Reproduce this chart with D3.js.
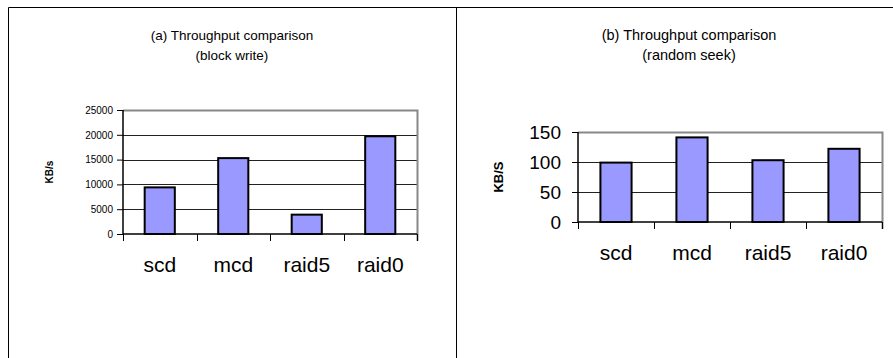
<!DOCTYPE html>
<html><head><meta charset="utf-8">
<script src="https://cdn.jsdelivr.net/npm/d3@7"></script>
<style>body{margin:0;background:#fff}svg{display:block;font-family:"Liberation Sans",Arial,sans-serif}</style>
</head><body><svg id="c" width="893" height="358"></svg>
<script>
const categories = ["scd", "mcd", "raid5", "raid0"];
const blockWrite = [9400, 15300, 3900, 19700];
const randomSeek = [99, 141, 103, 122];
const blockTicks = [0, 5000, 10000, 15000, 20000, 25000];
const seekTicks = [0, 50, 100, 150];
const titlesA = ["(a) Throughput comparison", "(block write)"];
const titlesB = ["(b) Throughput comparison", "(random seek)"];
const yLabelA = "KB/s";
const yLabelB = "KB/S";

const svg = d3.select("#c");
// outer frame
svg.append("path").attr("d","M8.5,358 V7.5 H893 M456.5,7.5 V358").attr("fill","none").attr("stroke","#000").attr("stroke-width",1);

function panel(o){
  const g = svg.append("g");
  const x = d3.scaleBand().domain(categories).range([o.x0,o.x1]).paddingInner(0.59).paddingOuter(0.295);
  const xb = d3.scaleBand().domain(categories).range([o.x0,o.x1]);
  const y = d3.scaleLinear().domain([0,o.max]).range([o.y1,o.y0]);
  // gridlines
  g.selectAll(".gl").data(o.ticks.slice(1,-1)).join("line")
    .attr("x1",o.x0).attr("x2",o.x1).attr("y1",d=>Math.round(y(d))+0.5).attr("y2",d=>Math.round(y(d))+0.5)
    .attr("stroke","#222").attr("stroke-width",1);
  // plot border gray top/right
  g.append("path").attr("d",`M${o.x0},${y(o.max)+0.5} H${o.x1+0.5} V${o.y1+7}`).attr("fill","none").attr("stroke","#888").attr("stroke-width",2);
  // bars
  g.selectAll(".bar").data(o.values).join("rect")
    .attr("x",(d,i)=>x(categories[i])).attr("width",x.bandwidth())
    .attr("y",d=>y(d)).attr("height",d=>y(0)-y(d))
    .attr("fill","#9999ff").attr("stroke","#000").attr("stroke-width",2);
  // y axis
  const ya = d3.axisLeft(y).tickValues(o.ticks).tickSize(o.ytick).tickPadding(o.ypad).tickFormat(d3.format("d"));
  const yg = g.append("g").attr("transform",`translate(${o.x0},0)`).call(ya);
  yg.select(".domain").attr("stroke","#000").attr("stroke-width",1.5).attr("d",`M0,${y(o.max)} V${o.y1}`);
  yg.selectAll("text").attr("font-size",o.yfs).attr("fill","#000").attr("font-family","Liberation Sans, Arial, sans-serif");
  // x axis
  const xa = d3.axisBottom(xb).tickSize(0).tickFormat("");
  const xg = g.append("g").attr("transform",`translate(0,${o.y1})`).call(xa);
  xg.select(".domain").attr("stroke","#000").attr("stroke-width",1.5).attr("d",`M${o.x0},0 H${o.x1}`);
  const bounds = categories.map(c=>xb(c)).concat([o.x1]);
  g.selectAll(".xt").data(bounds).join("line")
    .attr("x1",d=>Math.round(d)+0.5).attr("x2",d=>Math.round(d)+0.5).attr("y1",o.y1).attr("y2",o.y1+7)
    .attr("stroke","#000").attr("stroke-width",1);
  g.selectAll(".cl").data(categories).join("text")
    .attr("x",d=>xb(d)+xb.bandwidth()/2).attr("y",o.catY).attr("text-anchor","middle")
    .attr("font-size",21).text(d=>d);
  // titles
  g.selectAll(".tt").data(o.titles).join("text")
    .attr("x",o.tx).attr("y",(d,i)=>o.ty+i*20).attr("text-anchor","middle").attr("font-size",o.tfs).text(d=>d);
  // y label
  g.append("text").attr("transform",`translate(${o.lx},${(o.y0+o.y1)/2}) rotate(-90)`)
    .attr("text-anchor","middle").attr("font-weight","bold").attr("font-size",o.lfs).text(o.ylabel);
}

panel({x0:123,x1:417,y0:110,y1:234,max:25000,ticks:blockTicks,values:blockWrite,ytick:6,ypad:4,yfs:10,
  catY:272,titles:titlesA,tx:232,ty:40,tfs:13.5,lx:53,lfs:10,ylabel:yLabelA});
panel({x0:578,x1:882,y0:132,y1:222,max:150,ticks:seekTicks,values:randomSeek,ytick:6,ypad:11,yfs:19,
  catY:260,titles:titlesB,tx:689,ty:40,tfs:14.5,lx:503,lfs:13,ylabel:yLabelB});
</script></body></html>
